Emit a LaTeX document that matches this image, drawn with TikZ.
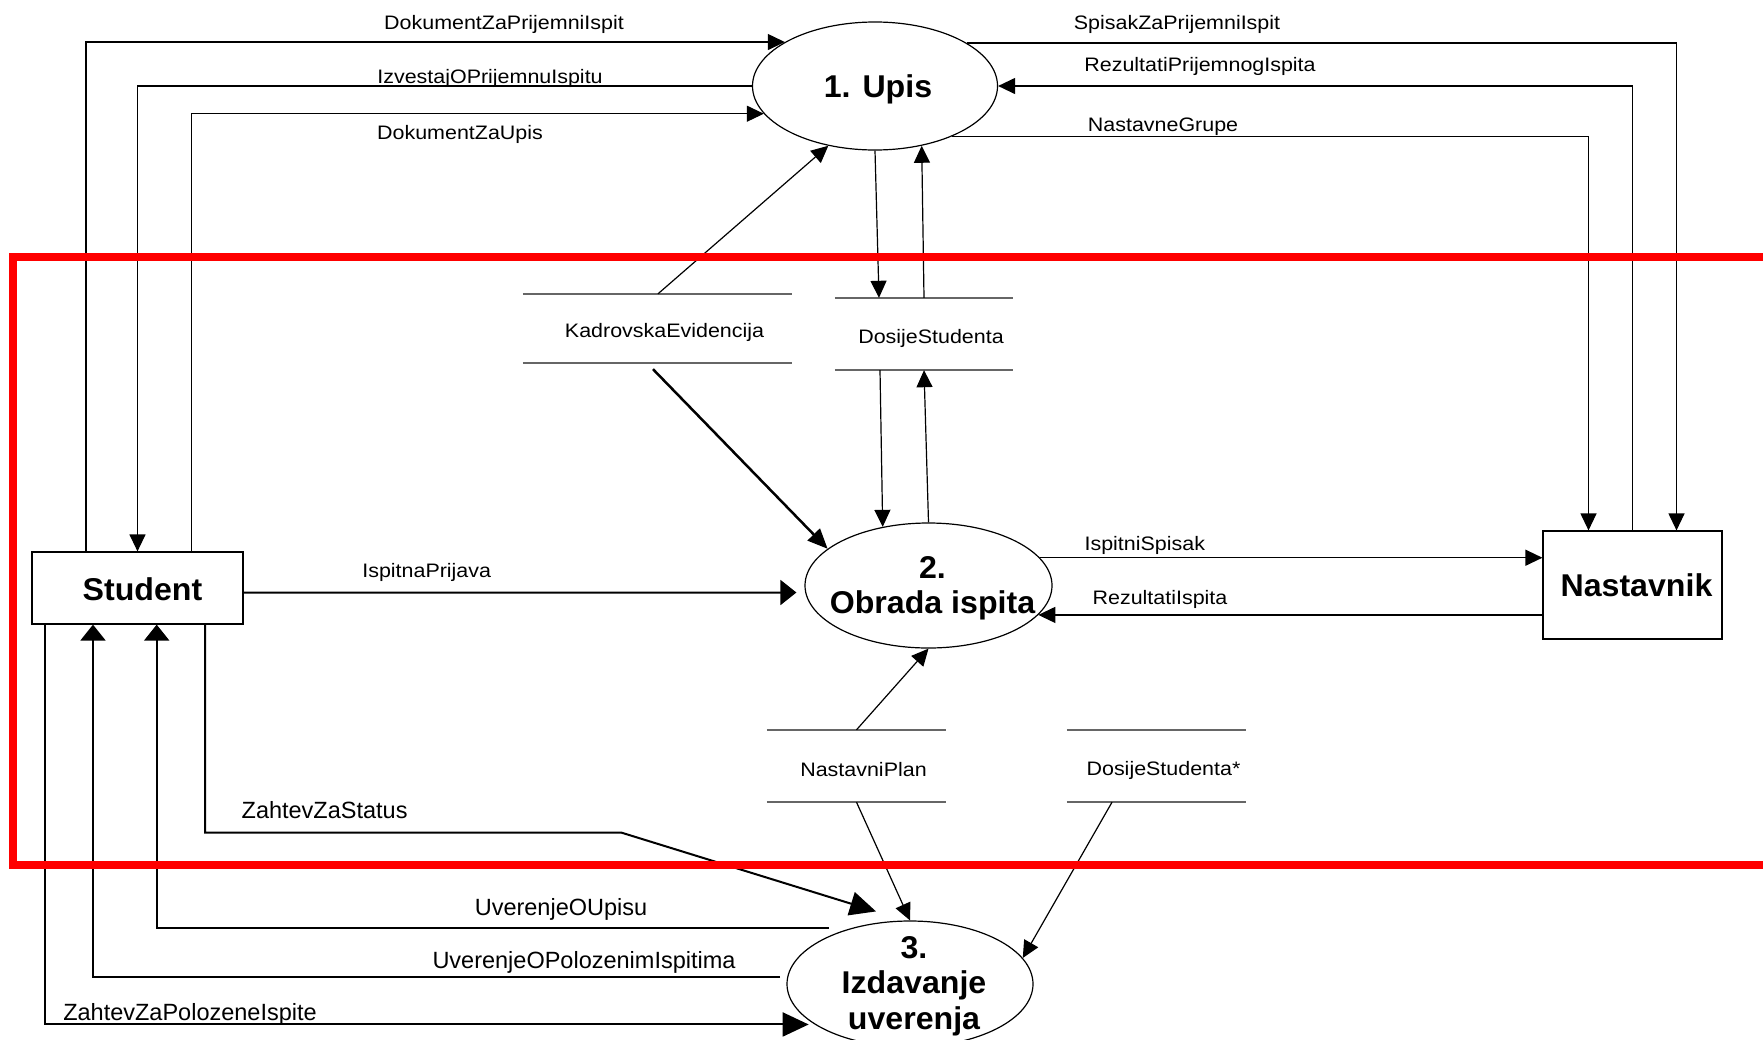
\documentclass[tikz,border=0pt]{standalone}
\usepackage{fontspec}
\setmainfont{Liberation Sans}
\newfontfamily\lblfont[FakeStretch=1.1]{Liberation Sans}
\newfontfamily\ttlfamily[FakeStretch=1.02]{Liberation Sans}
\usetikzlibrary{shapes.geometric,arrows.meta,calc}
\newcommand\lblA{\lblfont\fontsize{19.5}{23}\selectfont}
\newcommand\lblB{\fontsize{23.5}{28}\selectfont}
\newcommand\ttlfont{\ttlfamily\bfseries\fontsize{31.5}{35.5}\selectfont}
\begin{document}
\begin{tikzpicture}[x=1pt,y=-1pt,
  proc/.style={ellipse,draw,line width=1.2pt,minimum width=245pt,minimum height=128pt,inner sep=0pt},
  ent/.style={draw,line width=1.2pt,inner sep=0pt},
  ttl/.style={font=\ttlfont,align=center,inner sep=0pt},
  store/.style={inner sep=0pt,font=\lblA},
  storeline/.style={draw=black!60,line width=1.5pt},
  thinarr/.style={line width=1.2pt,-{Triangle[length=17pt,width=16pt]}},
  thickarr/.style={line width=2pt,-{Triangle[length=16pt,width=25pt]}},
  bigarr/.style={line width=2pt,-{Triangle[length=26pt,width=24pt]}},
  kadarr/.style={line width=2.5pt,-{Triangle[length=20pt,width=17pt]}},
  lblsmall/.style={inner sep=0pt,anchor=base,font=\lblA},
  lblbig/.style={inner sep=0pt,anchor=base,font=\lblB}]
\useasboundingbox (0,0) rectangle (1763,1039);
\clip (0,0) rectangle (1763,1039);
\fill[white] (0,0) rectangle (1763,1039);

% processes and entities
\node[proc,label={[ttl,xshift=3pt,yshift=-3.5pt]center:1. Upis}] (upis) at (875,86) {};
\node[proc,minimum width=247pt,minimum height=125pt,
  label={[ttl,xshift=4pt,yshift=-3pt]center:{2.\\Obrada ispita}}] (obrada) at (928.5,585.5) {};
\node[proc,minimum width=246pt,minimum height=126pt,
  label={[ttl,xshift=4pt,yshift=-2pt]center:{3.\\Izdavanje\\uverenja}}] (izdav) at (910,984) {};
\node[ent,minimum width=211pt,minimum height=72pt,
  label={[ttl,xshift=5pt,yshift=-1.5pt]center:Student}] (student) at (137.5,588) {};
\node[ent,minimum width=179pt,minimum height=108pt,
  label={[ttl,xshift=4pt]center:Nastavnik}] (nast) at (1632.5,585) {};

% data stores (node placed at its text; lines offset back to their true place)
\node[store,minimum width=269pt,minimum height=69pt] (kad) at (664.5,332.5) {KadrovskaEvidencija};
\node[store,minimum width=178pt,minimum height=72pt] (dos) at (931,338) {DosijeStudenta};
\node[store,minimum width=179pt,minimum height=72pt] (plan) at (863.5,770) {NastavniPlan};
\node[store,minimum width=179pt,minimum height=72pt] (dos2) at (1163.5,770) {DosijeStudenta*};
\foreach \s in {kad,dos,plan,dos2}
  \draw[storeline] ($(\s.north west)+(-7,-4)$) -- ($(\s.north east)+(-7,-4)$)
                   ($(\s.south west)+(-7,-4)$) -- ($(\s.south east)+(-7,-4)$);

% Student <-> Upis
\draw[thinarr] ($(student.north)+(-51.5,0)$) |- (upis.154.4);
\draw[thinarr] (upis.west) -| (student.north);
\draw[thinarr] ($(student.north)+(53.8,0)$) |- (upis.194.9);
% Upis <-> Nastavnik
\draw[thinarr] (upis.25.6) -| ($(nast.north)+(44,0)$);
\draw[thinarr] (nast.north) |- (upis.east);
\draw[thinarr] (upis.327.8) -| ($(nast.north)+(-44,0)$);
% Upis <-> stores
\draw[thinarr] (upis.south) -- ($(dos.north)+(-52,-4)$);
\draw[thinarr] ($(dos.north)+(-7,-4)$) -- (upis.308.5);
\draw[thinarr] ($(kad.north)+(-6.5,-4)$) -- (upis.232.2);
% stores <-> Obrada
\draw[kadarr] ($(kad.south)+(-11.5,2)$) -- (obrada.160.1);
\draw[thinarr] ($(dos.south)+(-51,-4)$) -- (obrada.128.3);
\draw[thinarr] (obrada.north) -- ($(dos.south)+(-7,-4)$);
\draw[thinarr] ($(plan.north)+(-7,-4)$) -- (obrada.south);
% Student -> Obrada
\draw[thickarr] ($(student.east)+(0,4.7)$) -- ($(obrada.west)+(-8,7)$);
% Obrada <-> Nastavnik
\draw[thinarr] (obrada.14.1) -- (obrada.14.1 -| nast.west);
\draw[thinarr] (obrada.345.9 -| nast.west) -- (obrada.345.9);
% stores -> Izdavanje
\draw[thinarr] ($(plan.south)+(-7,-4)$) -- (izdav.north);
\draw[thinarr] ($(dos2.south)+(-51.5,-4)$) -- (izdav.13.1);
% Student <-> Izdavanje
\coordinate (zsBend) at (621.7,832.7);
\coordinate (zsEnd) at ($(izdav.north)+(-34,-9)$);
\draw[bigarr] ($(student.south)+(67.5,0)$) |- (zsBend) -- (zsEnd);
\coordinate (uuStart) at ($(izdav.north)+(-81,7.3)$);
\draw[thickarr] (uuStart) -| ($(student.south)+(19.2,0)$);
\coordinate (upStart) at ($(izdav.west)+(-6.3,-7.3)$);
\draw[thickarr] (upStart) -| ($(student.south)+(-44.5,0)$);
\coordinate (zpEnd) at ($(izdav.203.7)+(-6,0)$);
\draw[bigarr] ($(student.south)+(-92.7,0)$) |- (zpEnd);

% labels
\node[lblsmall] (l1) at (504,29.3) {DokumentZaPrijemniIspit};
\node[lblsmall] (l2) at (490,83.3) {IzvestajOPrijemnuIspitu};
\node[lblsmall] (l3) at (460,139.3) {DokumentZaUpis};
\node[lblsmall] (l4) at (1177,29.3) {SpisakZaPrijemniIspit};
\node[lblsmall] (l5) at (1200,71.5) {RezultatiPrijemnogIspita};
\node[lblsmall] (l6) at (1163,131) {NastavneGrupe};
\node[lblsmall] (l7) at (426.7,577.3) {IspitnaPrijava};
\node[lblsmall] (l8) at (1144.8,550) {IspitniSpisak};
\node[lblsmall] (l9) at (1160,604) {RezultatiIspita};
\node[lblbig] (l10) at (324.6,818.3) {ZahtevZaStatus};
\node[lblbig] (l11) at (561,915) {UverenjeOUpisu};
\node[lblbig] (l12) at (584,968) {UverenjeOPolozenimIspitima};
\node[lblbig] (l13) at (190,1020) {ZahtevZaPolozeneIspite};

% red frame
\draw[red,line width=8pt] (13,257) rectangle (1800,864.5);
\end{tikzpicture}
\end{document}
